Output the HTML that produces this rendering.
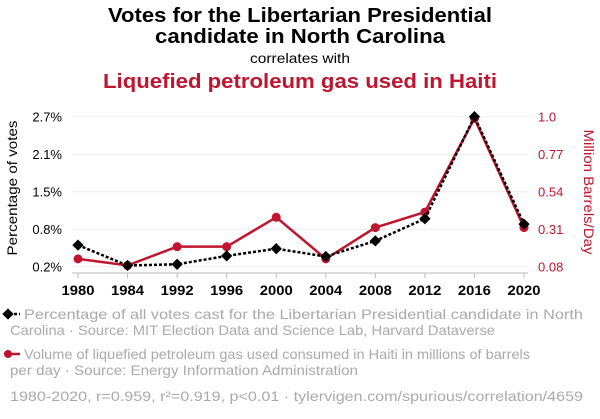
<!DOCTYPE html>
<html><head><meta charset="utf-8"><style>
body{margin:0;background:#fff;width:600px;height:414px;overflow:hidden;font-family:"Liberation Sans",sans-serif}
svg text{font-family:"Liberation Sans",sans-serif}
</style></head><body>
<svg id="c" width="600" height="414" xmlns="http://www.w3.org/2000/svg">
<text x="300" y="22" text-anchor="middle" font-size="20" font-weight="bold" fill="#000" textLength="384" lengthAdjust="spacingAndGlyphs">Votes for the Libertarian Presidential</text>
<text x="300" y="43" text-anchor="middle" font-size="20" font-weight="bold" fill="#000" textLength="290" lengthAdjust="spacingAndGlyphs">candidate in North Carolina</text>
<text x="300" y="63" text-anchor="middle" font-size="14" fill="#000" textLength="100" lengthAdjust="spacingAndGlyphs">correlates with</text>
<text x="300" y="88" text-anchor="middle" font-size="20" font-weight="bold" fill="#c0152f" textLength="394" lengthAdjust="spacingAndGlyphs">Liquefied petroleum gas used in Haiti</text>
<g id="grid"></g><g id="axes"></g><g id="marks"></g>
<text transform="translate(17,188) rotate(-90)" text-anchor="middle" font-size="14" fill="#000" textLength="135" lengthAdjust="spacingAndGlyphs">Percentage of votes</text>
<text transform="translate(584,192) rotate(90)" text-anchor="middle" font-size="14" fill="#c0152f" textLength="125" lengthAdjust="spacingAndGlyphs">Million Barrels/Day</text>
<g>
<line x1="4" y1="314" x2="20" y2="314" stroke="#000" stroke-width="2.5" stroke-dasharray="3,2"/>
<rect x="-4" y="-4" width="8" height="8" transform="translate(8,314) rotate(45)" fill="#000"/>
<text x="24" y="319" font-size="14" fill="#aaa" textLength="559" lengthAdjust="spacingAndGlyphs">Percentage of all votes cast for the Libertarian Presidential candidate in North</text>
<text x="10" y="335" font-size="14" fill="#aaa" textLength="485" lengthAdjust="spacingAndGlyphs">Carolina · Source: MIT Election Data and Science Lab, Harvard Dataverse</text>
</g>
<g>
<line x1="4" y1="354" x2="20" y2="354" stroke="#c0152f" stroke-width="2.5"/>
<circle cx="8" cy="354" r="4" fill="#c0152f"/>
<text x="24" y="359" font-size="14" fill="#aaa" textLength="506" lengthAdjust="spacingAndGlyphs">Volume of liquefied petroleum gas used consumed in Haiti in millions of barrels</text>
<text x="10" y="375" font-size="14" fill="#aaa" textLength="348" lengthAdjust="spacingAndGlyphs">per day · Source: Energy Information Administration</text>
</g>
<text x="10" y="401" font-size="14" fill="#aaa" textLength="573" lengthAdjust="spacingAndGlyphs">1980-2020, r=0.959, r²=0.919, p&lt;0.01 · tylervigen.com/spurious/correlation/4659</text>
</svg>
<script>
const years=["1980","1984","1992","1996","2000","2004","2008","2012","2016","2020"];
const votes=[0.56,0.22,0.24,0.38,0.50,0.37,0.63,1.00,2.70,0.91];
const lpg=[0.128,0.088,0.203,0.203,0.383,0.128,0.320,0.415,0.990,0.320];
const leftTicks=[0.2,0.825,1.45,2.075,2.7];
const leftLabels=["0.2%","0.8%","1.5%","2.1%","2.7%"];
const rightTicks=[0.08,0.31,0.54,0.77,1.0];
const rightLabels=["0.08","0.31","0.54","0.77","1.0"];
const NS="http://www.w3.org/2000/svg";
const x=i=>78+i*(524-78)/(years.length-1);
const yL=v=>266.7-(v-0.2)/2.5*150;
const yR=v=>266.7-(v-0.08)/0.92*150;
function mk(t,a,p){const e=document.createElementNS(NS,t);for(const k in a)e.setAttribute(k,a[k]);document.getElementById(p).appendChild(e);return e;}
leftTicks.forEach((v,i)=>{
 const g=mk('line',{x1:72,x2:528,y1:yL(v),y2:yL(v),stroke:'#eee','stroke-width':1},'grid');
 
 
 const t=mk('text',{x:62,y:yL(v)+5,'text-anchor':'end','font-size':13,fill:'#000'},'axes');t.textContent=leftLabels[i];
 
 
});
rightTicks.forEach((v,i)=>{
 const t=mk('text',{x:538,y:yR(v)+5,'font-size':13,fill:'#c0152f'},'axes');t.textContent=rightLabels[i];
 
 
});
const ax=mk('line',{x1:72,x2:528,y1:273,y2:273,stroke:'#bbb','stroke-width':1},'axes');


years.forEach((yr,i)=>{
 mk('line',{x1:x(i),x2:x(i),y1:273,y2:278,stroke:'#bbb'},'axes');
 const t=mk('text',{x:x(i),y:295,'text-anchor':'middle','font-size':14,'font-weight':'bold',fill:'#000',textLength:33,lengthAdjust:'spacingAndGlyphs'},'axes');t.textContent=yr;
 
 
});
const rl=mk('polyline',{points:lpg.map((v,i)=>x(i)+','+yR(v)).join(' '),fill:'none',stroke:'#c0152f','stroke-width':2.5},'marks');


lpg.forEach((v,i)=>{const c=mk('circle',{cx:x(i),cy:yR(v),r:4.5,fill:'#c0152f'},'marks');
 
 });
const bl=mk('polyline',{points:votes.map((v,i)=>x(i)+','+yL(v)).join(' '),fill:'none',stroke:'#000','stroke-width':2.5,'stroke-dasharray':'3,2'},'marks');


votes.forEach((v,i)=>{const r=mk('rect',{x:-4,y:-4,width:8,height:8,fill:'#000',transform:`translate(${x(i)},${yL(v)}) rotate(45)`},'marks');
 
 });
</script>
</body></html>
